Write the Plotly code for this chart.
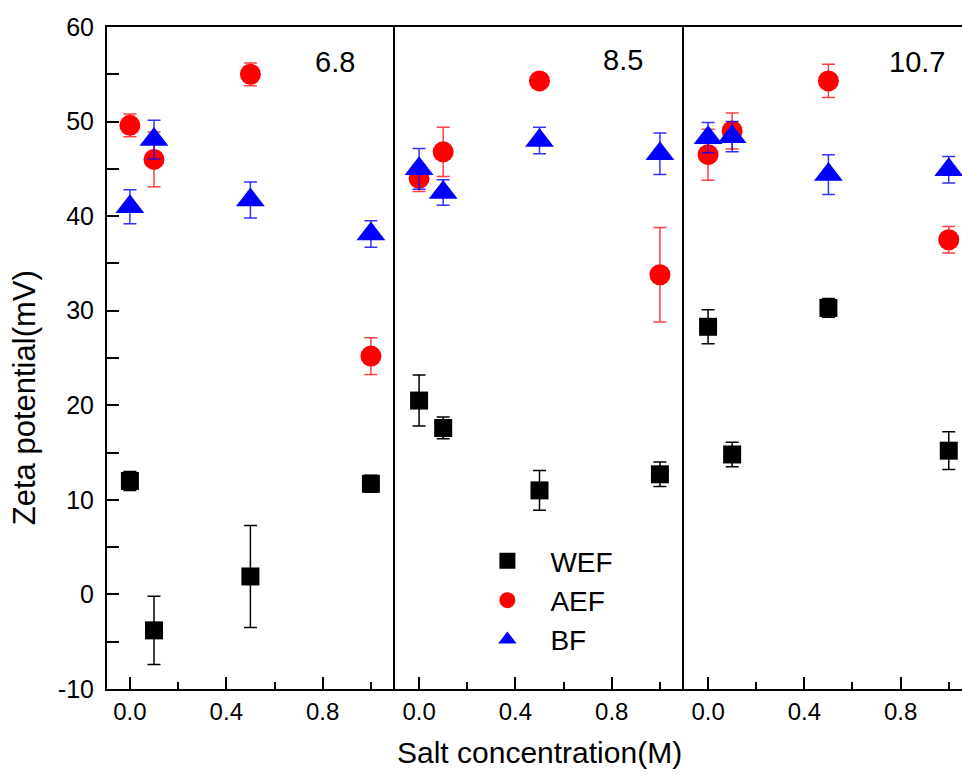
import plotly.graph_objects as go
from plotly.subplots import make_subplots

# ---- data ----
conc = [0.0, 0.1, 0.5, 1.0]
ph_labels = ["6.8", "8.5", "10.7"]
y_tickvals = [-10, 0, 10, 20, 30, 40, 50, 60]
y_ticktext = ["-10", "0", "10", "20", "30", "40", "50", "60"]
x_tickvals = [0.0, 0.4, 0.8]
x_ticktext = ["0.0", "0.4", "0.8"]

wef = {
    "6.8": [12.0, -3.8, 1.9, 11.7],
    "8.5": [20.5, 17.6, 11.0, 12.7],
    "10.7": [28.3, 14.8, 30.3, 15.2],
}
wef_err = {
    "6.8": [1.0, 3.6, 5.4, 0.9],
    "8.5": [2.7, 1.15, 2.1, 1.3],
    "10.7": [1.8, 1.3, 1.0, 2.0],
}
aef = {
    "6.8": [49.6, 46.0, 55.0, 25.2],
    "8.5": [44.0, 46.8, 54.3, 33.8],
    "10.7": [46.5, 49.0, 54.3, 37.5],
}
aef_err = {
    "6.8": [1.2, 2.9, 1.2, 1.95],
    "8.5": [1.4, 2.6, 0.5, 5.0],
    "10.7": [2.7, 1.9, 1.75, 1.4],
}
bf = {
    "6.8": [41.0, 48.1, 41.7, 38.1],
    "8.5": [45.0, 42.5, 48.0, 46.6],
    "10.7": [48.3, 48.4, 44.4, 44.9],
}
bf_err = {
    "6.8": [1.8, 2.05, 1.9, 1.4],
    "8.5": [2.15, 1.35, 1.4, 2.2],
    "10.7": [1.6, 1.6, 2.1, 1.4],
}

x_ranges = [[-0.095, 1.10], [-0.10, 1.10], [-0.10, 1.055]]
FONT = "Liberation Sans, Arial, sans-serif"

fig = make_subplots(rows=1, cols=3, shared_yaxes=True, horizontal_spacing=0,
                    column_widths=[288, 289, 278])

series = [
    ("WEF", wef, wef_err, "square", 18, "#000000", "#000000"),
    ("AEF", aef, aef_err, "circle", 21, "#ff0000", "rgba(255,0,0,0.75)"),
    ("BF", bf, bf_err, "triangle-up", 25, "#0000ff", "rgba(0,0,255,0.8)"),
]

for ci, ph in enumerate(ph_labels):
    for name, vals, errs, sym, sz, col, ecol in series:
        fig.add_trace(go.Scatter(
            x=conc, y=vals[ph], mode="markers", name=name,
            showlegend=(ci == 0), legendgroup=name,
            marker=dict(symbol=sym, size=sz, color=col, line=dict(width=0)),
            error_y=dict(type="data", array=errs[ph], visible=True,
                         color=ecol, thickness=1.5, width=6.5),
        ), row=1, col=ci + 1)

for ci in range(3):
    fig.update_xaxes(
        row=1, col=ci + 1, range=x_ranges[ci],
        tickmode="array", tickvals=x_tickvals, ticktext=x_ticktext,
        ticks="inside", ticklen=12, tickwidth=2, tickcolor="black",
        minor=dict(tickvals=[0.2, 0.6, 1.0], ticks="inside", ticklen=7,
                   tickwidth=2, tickcolor="black"),
        showline=True, linecolor="black", linewidth=2, mirror=True,
        showgrid=False, zeroline=False,
        tickfont=dict(family=FONT, size=24, color="black"),
    )

fig.update_yaxes(
    row=1, col=1, range=[-10, 60],
    tickmode="array", tickvals=y_tickvals, ticktext=y_ticktext,
    ticks="inside", ticklen=12, tickwidth=2, tickcolor="black",
    minor=dict(dtick=5, tick0=0, ticks="inside", ticklen=12, tickwidth=2,
               tickcolor="black"),
    showline=True, linecolor="black", linewidth=2,
    showgrid=False, zeroline=False, ticklabelstandoff=6,
    tickfont=dict(family=FONT, size=25, color="black"),
)
for ci in (2, 3):
    fig.update_yaxes(row=1, col=ci, range=[-10, 60], showline=True, linecolor="black",
                     linewidth=2, ticks="", showticklabels=False, showgrid=False,
                     zeroline=False)

# axis titles
fig.add_annotation(text="Zeta potential(mV)", textangle=-90, showarrow=False,
                   xref="paper", yref="paper", x=-0.0965, y=0.44,
                   xanchor="center", yanchor="middle",
                   font=dict(family=FONT, size=31, color="black"))
fig.add_annotation(text="Salt concentration(M)", showarrow=False,
                   xref="paper", yref="paper", x=0.506, y=-0.096,
                   xanchor="center", yanchor="middle",
                   font=dict(family=FONT, size=30, color="black"))

# pH labels
label_pos = [(0.85, 56.3), (0.845, 56.5), (0.87, 56.3)]
for ci, ph in enumerate(ph_labels):
    xr = "x" if ci == 0 else f"x{ci+1}"
    fig.add_annotation(x=label_pos[ci][0], y=label_pos[ci][1], xref=xr, yref="y",
                       text=ph, showarrow=False,
                       font=dict(family=FONT, size=29, color="black"))

fig.update_layout(
    width=962, height=776,
    margin=dict(l=107, r=0, t=27, b=87),
    plot_bgcolor="white", paper_bgcolor="white",
    legend=dict(x=0.418, y=0.231, xanchor="left", yanchor="top",
                font=dict(family=FONT, size=28, color="black"),
                bgcolor="rgba(0,0,0,0)", itemwidth=76, tracegroupgap=0),
    font=dict(family=FONT, color="black"),
)

fig.write_html("out.html")
